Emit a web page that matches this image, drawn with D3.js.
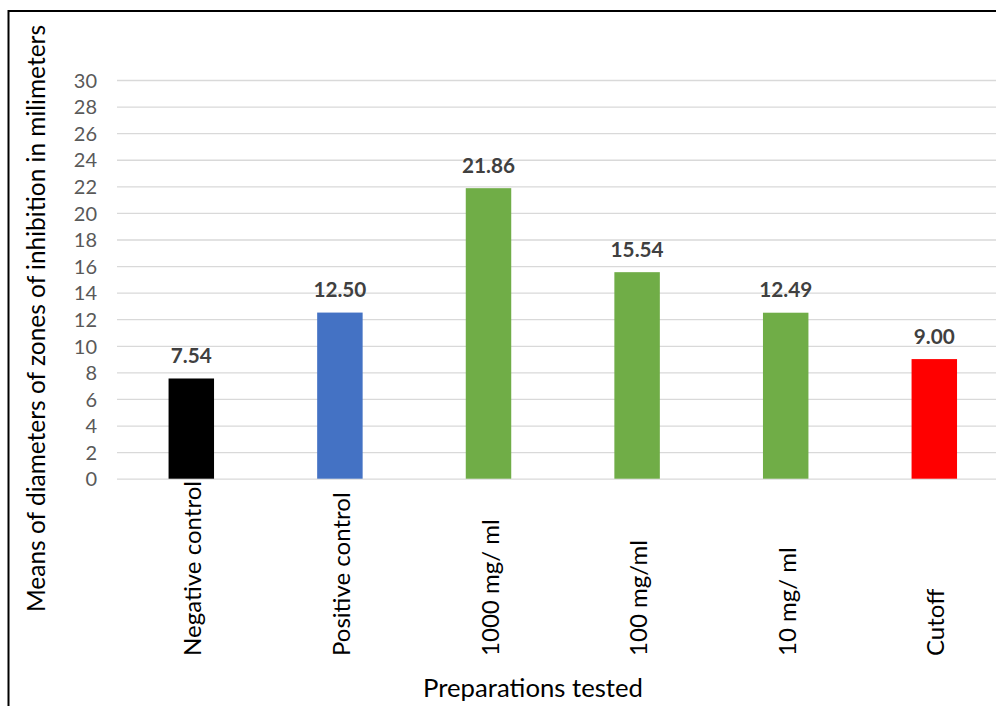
<!DOCTYPE html>
<html>
<head>
<meta charset="utf-8">
<script src="https://cdn.jsdelivr.net/npm/d3@7"></script>
<style>
  html, body { margin: 0; padding: 0; background: #fff; }
  svg { display: block; }
  text { font-family: Lato, "Open Sans", "Liberation Sans", sans-serif; }
</style>
</head>
<body>
<svg id="chart" width="996" height="706"></svg>
<script>
// Zone-of-inhibition means per preparation
const categories = ["Negative control", "Positive control", "1000 mg/ ml", "100 mg/ml", "10 mg/ ml", "Cutoff"];
const values = [7.54, 12.50, 21.86, 15.54, 12.49, 9.00];
const barColors = ["#000000", "#4472C4", "#70AD47", "#70AD47", "#70AD47", "#FF0000"];
const yTicks = [0, 2, 4, 6, 8, 10, 12, 14, 16, 18, 20, 22, 24, 26, 28, 30];
const xTitle = "Preparations tested";
const yTitle = "Means of diameters of zones of inhibition in milimeters";

const svg = d3.select("#chart");
const W = 996, H = 706;

// plot area (extends past the right edge, as in the cropped figure)
const plot = { left: 117, right: 1008.6, top: 80, bottom: 478.7 };

const x = d3.scaleBand()
  .domain(categories)
  .range([plot.left, plot.right])
  .paddingInner(0.694)
  .paddingOuter(0.347);

const y = d3.scaleLinear().domain([0, 30]).range([plot.bottom, plot.top]);

// scale a text's font size so its rendered length hits a target
function fit(sel, target, size) {
  sel.style("font-size", size + "px");
  const w = sel.node().getComputedTextLength();
  sel.style("font-size", (size * target / w).toFixed(2) + "px");
  return size * target / w;
}

// outer frame
svg.append("rect")
  .attr("x", 8.5).attr("y", 11)
  .attr("width", W + 20).attr("height", H + 20)
  .attr("fill", "none").attr("stroke", "#000").attr("stroke-width", 2);

// gridlines + tick labels via axis
const yAxis = d3.axisLeft(y).tickValues(yTicks).tickSize(-(plot.right - plot.left)).tickPadding(20);
const gy = svg.append("g").attr("transform", `translate(${plot.left},0)`).call(yAxis);
gy.select(".domain").remove();
gy.selectAll(".tick line").attr("stroke", "#d9d9d9").attr("stroke-width", 1.3);
gy.selectAll(".tick text")
  .attr("fill", "#595959")
  .style("font-size", "20px")
  .attr("dy", "0.36em")
  .attr("font-family", "Lato, 'Open Sans', sans-serif");

// bars
svg.append("g").selectAll("rect")
  .data(values)
  .join("rect")
  .attr("x", (d, i) => x(categories[i]))
  .attr("width", x.bandwidth())
  .attr("y", d => y(d))
  .attr("height", d => y(0) - y(d))
  .attr("fill", (d, i) => barColors[i]);

// value labels
const vl = svg.append("g").selectAll("text")
  .data(values)
  .join("text")
  .attr("x", (d, i) => x(categories[i]) + x.bandwidth() / 2)
  .attr("y", d => y(d) - 15.5)
  .attr("text-anchor", "middle")
  .attr("fill", "#404040")
  .attr("font-weight", "bold")
  .text(d => d.toFixed(2));
const vSize = fit(vl.filter((d, i) => i === 2), 53, 20);
vl.style("font-size", vSize.toFixed(2) + "px");

// category labels, rotated, bottom-aligned
const cl = svg.append("g").selectAll("text")
  .data(categories)
  .join("text")
  .attr("transform", d => `translate(${x(d) + x.bandwidth() / 2 + 10},656) rotate(-90)`)
  .attr("text-anchor", "start")
  .attr("fill", "#000")
  .text(d => d);
const cSize = fit(cl.filter((d, i) => i === 0), 175, 24);
cl.style("font-size", cSize.toFixed(2) + "px");

// axis titles
const xt = svg.append("text")
  .attr("x", 533).attr("y", 697)
  .attr("text-anchor", "middle")
  .attr("fill", "#000")
  .text(xTitle);
fit(xt, 220, 24);

const yt = svg.append("text")
  .attr("transform", "translate(45,318.5) rotate(-90)")
  .attr("text-anchor", "middle")
  .attr("fill", "#000")
  .text(yTitle);
fit(yt, 587, 24);
</script>
</body>
</html>
